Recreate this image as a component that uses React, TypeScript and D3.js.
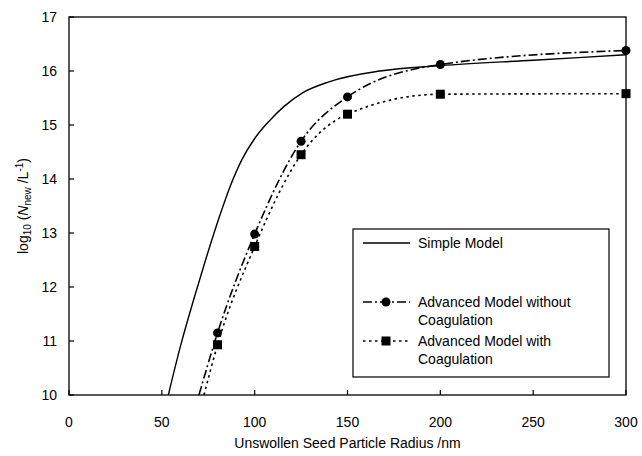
import React from "react";
import * as d3 from "d3";

const simpleX = [53.5, 60, 67, 74, 81, 87, 93, 100, 108, 116, 126, 140, 167.5, 200, 250, 300];
const simpleY = [10, 10.9, 11.75, 12.55, 13.3, 13.88, 14.35, 14.75, 15.08, 15.35, 15.6, 15.8, 16.0, 16.1, 16.2, 16.3];
const advX = [70, 80, 100, 125, 150, 200, 300];
const advNoCoagY = [10, 11.15, 12.98, 14.7, 15.52, 16.12, 16.38];
const advCoagY = [10, 10.93, 12.75, 14.45, 15.2, 15.57, 15.58];
const advCoagX = [72.7, 80, 100, 125, 150, 200, 300];
const xTicks = [0, 50, 100, 150, 200, 250, 300];
const yTicks = [10, 11, 12, 13, 14, 15, 16, 17];

export default function App() {
  const W = 642, H = 456;
  const L = 69, R = 626, T = 17, B = 395;
  const x = d3.scaleLinear().domain([0, 300]).range([L, R]);
  const y = d3.scaleLinear().domain([10, 17]).range([B, T]);
  const font = "'Liberation Sans', Arial, sans-serif";
  const line = d3.line<[number, number]>().x(d => x(d[0])).y(d => y(d[1])).curve(d3.curveMonotoneX);
  const simple = simpleX.map((v, i) => [v, simpleY[i]] as [number, number]);
  const noCoag = advX.map((v, i) => [v, advNoCoagY[i]] as [number, number]);
  const coag = advCoagX.map((v, i) => [v, advCoagY[i]] as [number, number]);
  const lx = 355;
  return (
    <svg width={W} height={H} style={{ position: "absolute", left: 0, top: 0 }} fontFamily={font}>
      <rect width={W} height={H} fill="white" />
      <defs>
        <clipPath id="c"><rect x={L} y={T} width={R - L} height={B - T + 8} /></clipPath>
      </defs>
      <g clipPath="url(#c)" fill="none" stroke="#000">
        <path d={line(simple)!} strokeWidth={1.4} />
        <path d={line(noCoag)!} strokeWidth={1.6} strokeDasharray="9,3,2,3" />
        <path d={line(coag)!} strokeWidth={1.6} strokeDasharray="2.5,3.5" />
      </g>
      {noCoag.slice(1).map((d, i) => (
        <circle key={"c" + i} cx={x(d[0])} cy={y(d[1])} r={4.5} fill="#000" />
      ))}
      {coag.slice(1).map((d, i) => (
        <rect key={"s" + i} x={x(d[0]) - 4.5} y={y(d[1]) - 4.5} width={9} height={9} fill="#000" />
      ))}
      <rect x={L} y={T} width={R - L} height={B - T} fill="none" stroke="#000" strokeWidth={1.3} />
      {xTicks.map(t => (
        <g key={"x" + t}>
          <line x1={x(t)} x2={x(t)} y1={B} y2={B - 5} stroke="#000" strokeWidth={1.2} />
          <text x={x(t)} y={B + 32} fontSize={14} textAnchor="middle">{t}</text>
        </g>
      ))}
      {yTicks.map(t => (
        <g key={"y" + t}>
          <line x1={L} x2={L + 5} y1={y(t)} y2={y(t)} stroke="#000" strokeWidth={1.2} />
          <text x={L - 12} y={y(t) + 5} fontSize={14} textAnchor="end">{t}</text>
        </g>
      ))}
      <text x={(L + R) / 2} y={448} fontSize={14} textAnchor="middle">Unswollen Seed Particle Radius /nm</text>
      <text transform={`translate(28,${(T + B) / 2}) rotate(-90)`} fontSize={14} textAnchor="middle">
        log<tspan fontSize={10} dy={3}>10</tspan><tspan dy={-3}> (</tspan><tspan fontStyle="italic">N</tspan><tspan fontSize={10} dy={3}>new</tspan><tspan dy={-3}> /L</tspan><tspan fontSize={10} dy={-5}>-1</tspan><tspan dy={5}>)</tspan>
      </text>
      <rect x={353} y={229} width={256} height={148} fill="white" stroke="#000" strokeWidth={1.2} />
      <line x1={lx + 8} x2={lx + 55} y1={243} y2={243} stroke="#000" strokeWidth={1.4} />
      <line x1={lx + 8} x2={lx + 55} y1={302} y2={302} stroke="#000" strokeWidth={1.6} strokeDasharray="9,3,2,3" />
      <circle cx={lx + 31} cy={302} r={4.5} fill="#000" />
      <line x1={lx + 8} x2={lx + 55} y1={341} y2={341} stroke="#000" strokeWidth={1.6} strokeDasharray="2.5,3.5" />
      <rect x={lx + 26.5} y={336.5} width={9} height={9} fill="#000" />
      <text x={418} y={248} fontSize={14}>Simple Model</text>
      <text x={418} y={307} fontSize={14}>Advanced Model without</text>
      <text x={418} y={325} fontSize={14}>Coagulation</text>
      <text x={418} y={346} fontSize={14}>Advanced Model with</text>
      <text x={418} y={364} fontSize={14}>Coagulation</text>
    </svg>
  );
}
